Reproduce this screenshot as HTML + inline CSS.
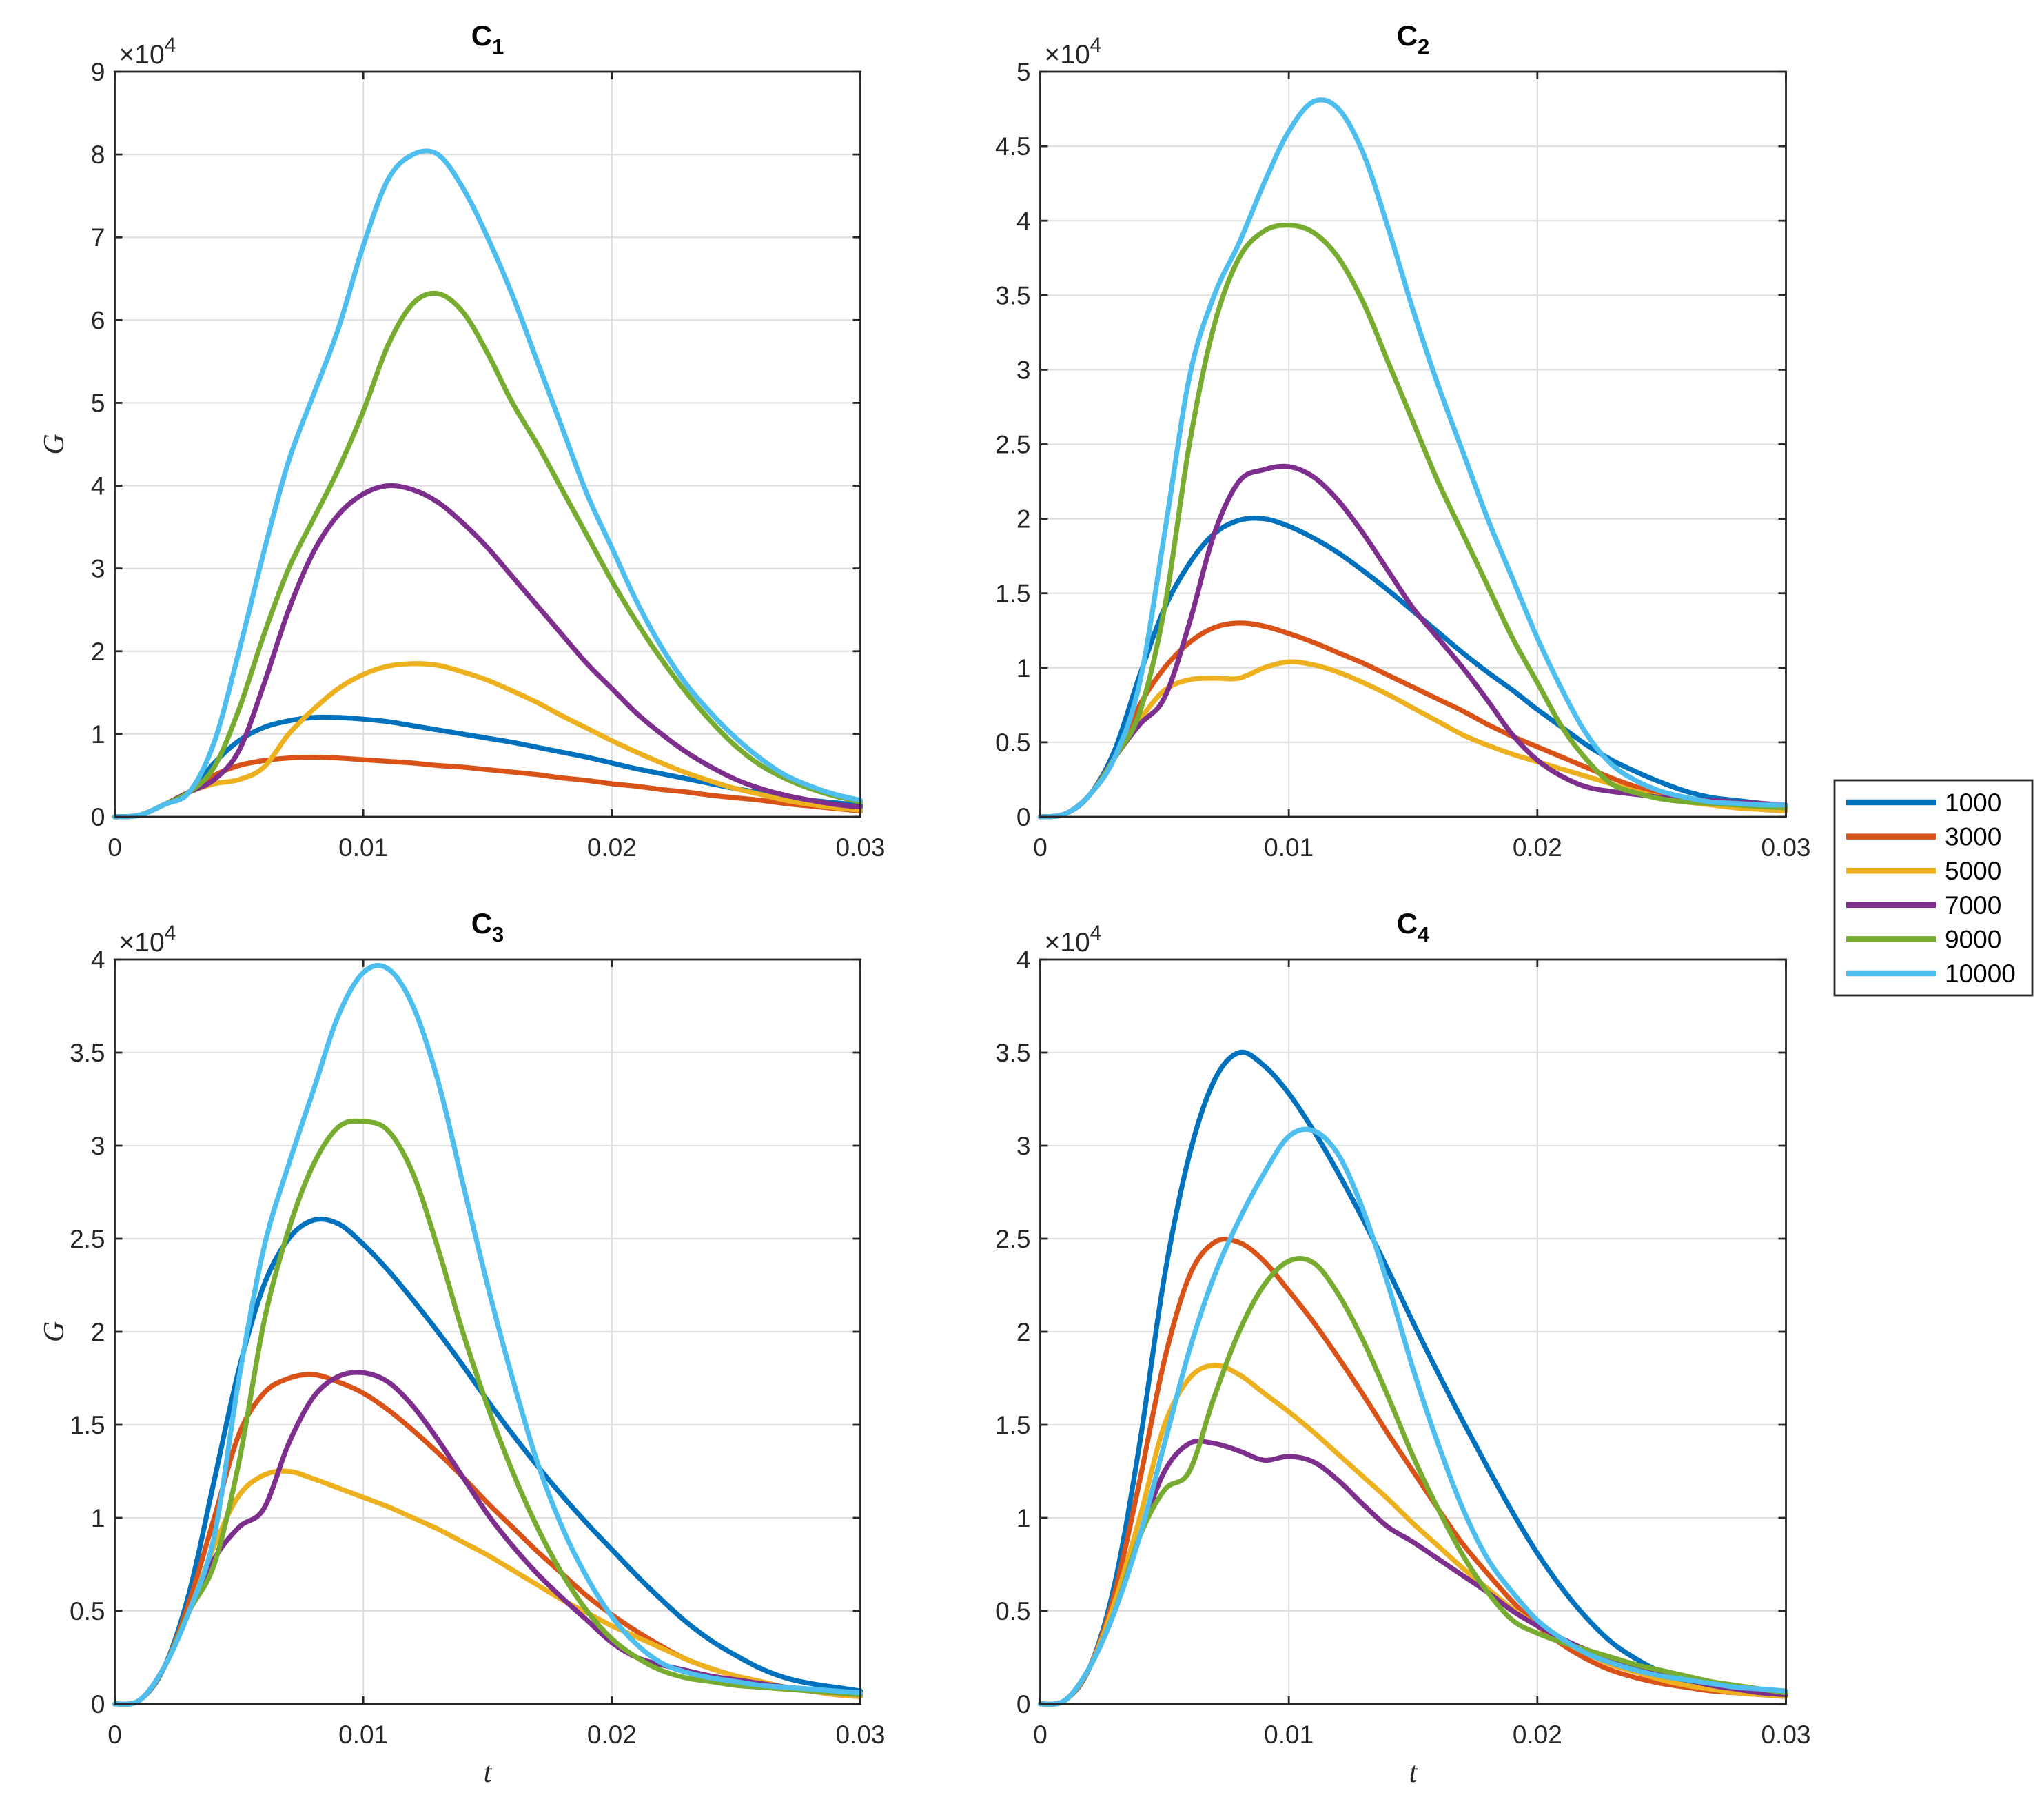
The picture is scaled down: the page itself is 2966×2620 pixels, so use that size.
<!DOCTYPE html>
<html><head><meta charset="utf-8"><style>
html,body{margin:0;padding:0;background:#fff;}
svg{display:block;font-family:"Liberation Sans",sans-serif;}
</style></head><body>
<svg id="fig" width="2966" height="2620" viewBox="0 0 2966 2620" xmlns="http://www.w3.org/2000/svg"></svg>
<script>
const seriesLabels = ["1000","3000","5000","7000","9000","10000"];
const colors = ["#0072BD","#D95319","#EDB120","#7E2F8E","#77AC30","#4DBEEE"];
const tValues = Array.from({length:31},(_,i)=>i*0.001);
const xTicks = [0,0.01,0.02,0.03];
const xTickLabels = ["0","0.01","0.02","0.03"];
const yTicks1 = [0,1,2,3,4,5,6,7,8,9];
const yTicks2 = [0,0.5,1,1.5,2,2.5,3,3.5,4,4.5,5];
const yTicks34 = [0,0.5,1,1.5,2,2.5,3,3.5,4];

const c1_1000 = [0,0.02,0.15,0.3,0.65,0.92,1.08,1.16,1.2,1.2,1.18,1.15,1.1,1.05,1.0,0.95,0.9,0.84,0.78,0.72,0.65,0.58,0.52,0.46,0.4,0.34,0.29,0.24,0.2,0.17,0.14];
const c1_3000 = [0,0.02,0.15,0.3,0.5,0.62,0.68,0.71,0.72,0.71,0.69,0.67,0.65,0.62,0.6,0.57,0.54,0.51,0.47,0.44,0.4,0.37,0.33,0.3,0.26,0.23,0.2,0.16,0.13,0.1,0.07];
const c1_5000 = [0,0.02,0.15,0.3,0.4,0.45,0.6,1.0,1.3,1.55,1.72,1.82,1.85,1.83,1.75,1.65,1.52,1.38,1.22,1.07,0.92,0.78,0.65,0.53,0.43,0.34,0.27,0.2,0.15,0.11,0.08];
const c1_7000 = [0,0.02,0.15,0.3,0.45,0.8,1.6,2.5,3.2,3.65,3.9,4.0,3.95,3.8,3.55,3.25,2.9,2.55,2.2,1.85,1.55,1.25,1.0,0.78,0.6,0.45,0.34,0.26,0.2,0.15,0.12];
const c1_9000 = [0,0.02,0.15,0.3,0.6,1.3,2.2,3.0,3.6,4.2,4.9,5.7,6.2,6.32,6.1,5.6,5.0,4.5,3.95,3.4,2.85,2.35,1.9,1.5,1.15,0.85,0.62,0.46,0.34,0.25,0.18];
const c1_10000 = [0,0.02,0.15,0.3,0.9,2.0,3.2,4.3,5.1,5.9,6.9,7.7,8.0,8.0,7.6,7.0,6.3,5.5,4.7,3.9,3.25,2.6,2.05,1.6,1.25,0.95,0.7,0.5,0.37,0.27,0.2];

const c2_1000 = [0,0.02,0.15,0.45,0.95,1.4,1.7,1.9,1.99,2.0,1.95,1.87,1.77,1.65,1.52,1.38,1.24,1.1,0.97,0.85,0.72,0.6,0.48,0.38,0.3,0.23,0.17,0.13,0.11,0.09,0.07];
const c2_3000 = [0,0.02,0.15,0.4,0.75,1.0,1.17,1.27,1.3,1.28,1.23,1.17,1.1,1.03,0.95,0.87,0.79,0.71,0.62,0.54,0.47,0.4,0.33,0.26,0.2,0.15,0.11,0.09,0.07,0.05,0.04];
const c2_5000 = [0,0.02,0.15,0.4,0.65,0.85,0.92,0.93,0.93,1.0,1.04,1.02,0.97,0.9,0.82,0.73,0.64,0.55,0.48,0.42,0.37,0.32,0.27,0.22,0.17,0.13,0.1,0.08,0.06,0.05,0.04];
const c2_7000 = [0,0.02,0.15,0.4,0.62,0.8,1.3,1.9,2.25,2.33,2.35,2.28,2.12,1.9,1.65,1.4,1.2,1.0,0.78,0.55,0.38,0.27,0.2,0.17,0.15,0.13,0.12,0.11,0.1,0.09,0.08];
const c2_9000 = [0,0.02,0.15,0.4,0.7,1.4,2.5,3.3,3.75,3.93,3.97,3.92,3.75,3.45,3.05,2.65,2.25,1.9,1.55,1.2,0.9,0.6,0.38,0.22,0.16,0.12,0.1,0.09,0.08,0.07,0.06];
const c2_10000 = [0,0.02,0.15,0.4,0.9,1.9,2.95,3.5,3.85,4.25,4.6,4.8,4.75,4.45,3.95,3.4,2.9,2.45,2.0,1.6,1.2,0.85,0.55,0.35,0.24,0.17,0.13,0.1,0.09,0.08,0.08];

const c3_1000 = [0,0.02,0.2,0.6,1.2,1.8,2.25,2.5,2.6,2.58,2.47,2.33,2.17,2.0,1.82,1.63,1.45,1.28,1.12,0.97,0.83,0.69,0.56,0.44,0.34,0.26,0.19,0.14,0.11,0.09,0.07];
const c3_3000 = [0,0.02,0.2,0.55,1.0,1.45,1.67,1.75,1.77,1.73,1.67,1.58,1.47,1.35,1.22,1.08,0.95,0.82,0.7,0.58,0.48,0.39,0.31,0.24,0.19,0.15,0.12,0.09,0.07,0.05,0.04];
const c3_5000 = [0,0.02,0.2,0.5,0.85,1.12,1.23,1.25,1.21,1.16,1.11,1.06,1.0,0.94,0.87,0.8,0.72,0.64,0.56,0.49,0.42,0.36,0.3,0.24,0.19,0.15,0.12,0.09,0.07,0.05,0.04];
const c3_7000 = [0,0.02,0.2,0.5,0.78,0.95,1.05,1.4,1.65,1.76,1.78,1.73,1.6,1.42,1.22,1.02,0.85,0.7,0.57,0.45,0.33,0.25,0.21,0.18,0.15,0.13,0.11,0.09,0.07,0.06,0.05];
const c3_9000 = [0,0.02,0.2,0.5,0.75,1.3,2.05,2.55,2.9,3.1,3.13,3.08,2.85,2.45,2.0,1.6,1.25,0.95,0.7,0.5,0.35,0.25,0.18,0.14,0.12,0.1,0.09,0.08,0.07,0.06,0.05];
const c3_10000 = [0,0.02,0.2,0.5,0.9,1.75,2.45,2.9,3.3,3.7,3.93,3.95,3.75,3.35,2.8,2.25,1.75,1.3,0.95,0.68,0.47,0.32,0.22,0.17,0.14,0.12,0.1,0.09,0.08,0.07,0.06];

const c4_1000 = [0,0.02,0.2,0.65,1.4,2.3,2.95,3.35,3.5,3.43,3.28,3.08,2.85,2.6,2.33,2.05,1.78,1.52,1.27,1.03,0.81,0.62,0.46,0.33,0.24,0.17,0.12,0.09,0.08,0.07,0.06];
const c4_3000 = [0,0.02,0.2,0.6,1.2,1.85,2.3,2.48,2.48,2.38,2.22,2.05,1.86,1.66,1.45,1.25,1.05,0.86,0.7,0.55,0.42,0.32,0.24,0.18,0.14,0.11,0.09,0.07,0.06,0.05,0.04];
const c4_5000 = [0,0.02,0.2,0.55,1.0,1.5,1.75,1.82,1.77,1.67,1.57,1.46,1.34,1.22,1.1,0.97,0.85,0.73,0.62,0.51,0.42,0.34,0.27,0.21,0.17,0.13,0.1,0.08,0.06,0.05,0.04];
const c4_7000 = [0,0.02,0.2,0.5,0.9,1.25,1.4,1.4,1.36,1.31,1.33,1.3,1.2,1.07,0.95,0.87,0.78,0.69,0.6,0.5,0.42,0.35,0.29,0.24,0.2,0.16,0.13,0.1,0.08,0.06,0.05];
const c4_9000 = [0,0.02,0.2,0.5,0.9,1.15,1.25,1.65,2.0,2.25,2.38,2.37,2.2,1.95,1.65,1.33,1.05,0.8,0.6,0.45,0.38,0.33,0.29,0.25,0.21,0.18,0.15,0.12,0.1,0.08,0.06];
const c4_10000 = [0,0.02,0.2,0.5,0.9,1.4,1.9,2.3,2.6,2.85,3.05,3.08,2.95,2.65,2.25,1.8,1.4,1.05,0.78,0.6,0.45,0.35,0.27,0.22,0.18,0.15,0.13,0.11,0.09,0.08,0.07];

const NS="http://www.w3.org/2000/svg";
const svg=document.getElementById('fig');
function mk(tag,attrs,parent){const e=document.createElementNS(NS,tag);for(const k in attrs)e.setAttribute(k,attrs[k]);(parent||svg).appendChild(e);return e;}

const panels=[
 {title:"1",x0:166.5,x1:1248.5,y0:104,y1:1185,ymax:9,ticks:yTicks1,data:[c1_1000,c1_3000,c1_5000,c1_7000,c1_9000,c1_10000],ylab:true,xlab:false},
 {title:"2",x0:1509.5,x1:2591.5,y0:104,y1:1185,ymax:5,ticks:yTicks2,data:[c2_1000,c2_3000,c2_5000,c2_7000,c2_9000,c2_10000],ylab:false,xlab:false},
 {title:"3",x0:166.5,x1:1248.5,y0:1392,y1:2472,ymax:4,ticks:yTicks34,data:[c3_1000,c3_3000,c3_5000,c3_7000,c3_9000,c3_10000],ylab:true,xlab:true},
 {title:"4",x0:1509.5,x1:2591.5,y0:1392,y1:2472,ymax:4,ticks:yTicks34,data:[c4_1000,c4_3000,c4_5000,c4_7000,c4_9000,c4_10000],ylab:false,xlab:true}
];

function smoothPath(pts){
  let d="M"+pts[0][0].toFixed(1)+","+pts[0][1].toFixed(1);
  for(let i=0;i<pts.length-1;i++){
    const p0=pts[Math.max(0,i-1)],p1=pts[i],p2=pts[i+1],p3=pts[Math.min(pts.length-1,i+2)];
    const c1x=p1[0]+(p2[0]-p0[0])/6,c1y=p1[1]+(p2[1]-p0[1])/6;
    const c2x=p2[0]-(p3[0]-p1[0])/6,c2y=p2[1]-(p3[1]-p1[1])/6;
    d+=" C"+c1x.toFixed(1)+","+c1y.toFixed(1)+" "+c2x.toFixed(1)+","+c2y.toFixed(1)+" "+p2[0].toFixed(1)+","+p2[1].toFixed(1);
  }
  return d;
}

panels.forEach((p,pi)=>{
  const g=mk('g',{});
  
  
  const sx=t=>p.x0+t/0.03*(p.x1-p.x0);
  const sy=v=>p.y1-v/p.ymax*(p.y1-p.y0);
  p.ticks.forEach(v=>{ if(v>0&&v<p.ymax){const l=mk('line',{x1:p.x0,x2:p.x1,y1:sy(v),y2:sy(v),stroke:"#dfdfdf","stroke-width":2.2},g);
    }});
  xTicks.forEach(t=>{ if(t>0&&t<0.03){const l=mk('line',{x1:sx(t),x2:sx(t),y1:p.y0,y2:p.y1,stroke:"#dfdfdf","stroke-width":2.2},g);
    }});
  p.data.forEach((arr,si)=>{
    const pts=arr.map((v,i)=>[sx(tValues[i]),sy(v)]);
    const path=mk('path',{d:smoothPath(pts),fill:"none",stroke:colors[si],"stroke-width":7.2,"stroke-linejoin":"round","stroke-linecap":"round"},g);
    
    
  });
  const box=mk('rect',{x:p.x0,y:p.y0,width:p.x1-p.x0,height:p.y1-p.y0,fill:"none",stroke:"#262626","stroke-width":2.8},g);
  
  p.ticks.forEach((v,i)=>{
    mk('line',{x1:p.x0,x2:p.x0+11,y1:sy(v),y2:sy(v),stroke:"#262626","stroke-width":2.8},g);
    mk('line',{x1:p.x1,x2:p.x1-11,y1:sy(v),y2:sy(v),stroke:"#262626","stroke-width":2.8},g);
    const tx=mk('text',{x:p.x0-14,y:sy(v)+13,"text-anchor":"end","font-size":37,fill:"#262626"},g);
    tx.textContent=String(v);
    
  });
  xTicks.forEach((t,i)=>{
    mk('line',{x1:sx(t),x2:sx(t),y1:p.y1,y2:p.y1-11,stroke:"#262626","stroke-width":2.8},g);
    mk('line',{x1:sx(t),x2:sx(t),y1:p.y0,y2:p.y0+11,stroke:"#262626","stroke-width":2.8},g);
    const tx=mk('text',{x:sx(t),y:p.y1+57,"text-anchor":"middle","font-size":37,fill:"#262626"},g);
    tx.textContent=xTickLabels[i];
    
  });
  const ex=mk('text',{x:p.x0+6,y:p.y0-12,"font-size":39,fill:"#262626"},g);
  ex.innerHTML='×10<tspan font-size="30" dy="-17">4</tspan>';
  
  const ti=mk('text',{x:(p.x0+p.x1)/2,y:p.y0-38,"text-anchor":"middle","font-size":42,"font-weight":"bold",fill:"#000"},g);
  ti.innerHTML='C<tspan font-size="31" dy="12">'+p.title+'</tspan>';
  
  if(p.ylab){
    const cy=(p.y0+p.y1)/2;
    const yl=mk('text',{x:92,y:cy,"text-anchor":"middle","font-size":42,"font-style":"italic","font-family":"Liberation Serif, serif",fill:"#262626",transform:"rotate(-90 92 "+cy+")"},g);
    yl.textContent="G";
    
  }
  if(p.xlab){
    const xl=mk('text',{x:(p.x0+p.x1)/2,y:2585,"text-anchor":"middle","font-size":42,"font-style":"italic","font-family":"Liberation Serif, serif",fill:"#262626"},g);
    xl.textContent="t";
    
  }
});

const lg=mk('g',{});


const lb=mk('rect',{x:2662,y:1132,width:287,height:312,fill:"#fff",stroke:"#262626","stroke-width":2.8},lg);

seriesLabels.forEach((s,i)=>{
  const y=1164+i*49.6;
  const e=mk('g',{},lg);
  
  
  mk('line',{x1:2679,x2:2809,y1:y,y2:y,stroke:colors[i],"stroke-width":8.5},e);
  const t=mk('text',{x:2822,y:y+13,"font-size":37,fill:"#000"},e);
  t.textContent=s;
});
</script>
</body></html>
